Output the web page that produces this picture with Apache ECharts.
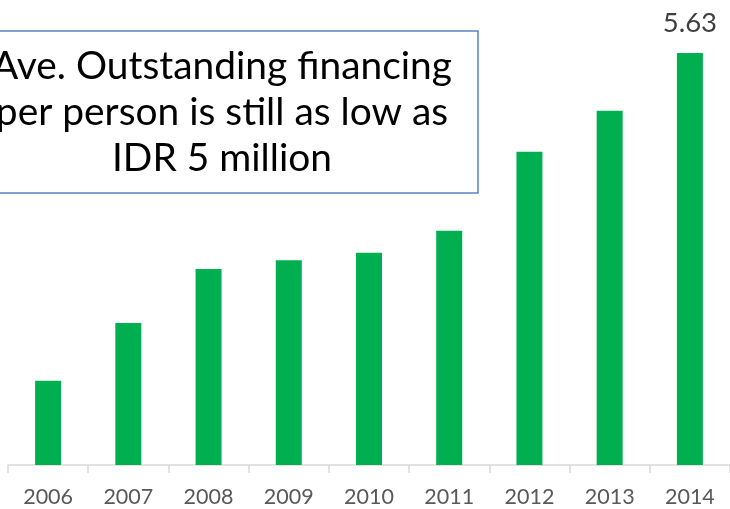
<!DOCTYPE html>
<html><head><meta charset="utf-8">
<script src="https://cdn.jsdelivr.net/npm/echarts@6/dist/echarts.min.js"></script>
<style>html,body{margin:0;padding:0;background:#fff}#c{width:730px;height:509px}</style>
</head><body><div id="c"></div>
<script>
const categories = ['2006','2007','2008','2009','2010','2011','2012','2013','2014'];
const values = [1.15, 1.94, 2.68, 2.80, 2.90, 3.20, 4.28, 4.84, 5.63];
const labelledIndex = 8;
const noteLines = ['Ave. Outstanding financing', 'per person is still as low as', 'IDR 5 million'];

const FONT = 'Lato';
// fit note font so line 2 spans about 450px
const cv = document.createElement('canvas').getContext('2d');
cv.font = '100px ' + FONT;
const w2 = cv.measureText(noteLines[1]).width;
const noteSize = Math.round(100 * 452 / w2 * 10) / 10;

const chart = echarts.init(document.getElementById('c'), null, {renderer: 'canvas'});
chart.setOption({
  animation: false,
  backgroundColor: '#fff',
  grid: {left: 8, top: 26, width: 728, bottom: 44, containLabel: false},
  xAxis: {
    type: 'category', data: categories, boundaryGap: true,
    axisLine: {lineStyle: {color: '#d9d9d9', width: 1.5}},
    axisTick: {show: true, length: 8, lineStyle: {color: '#d9d9d9', width: 1.5}},
    axisLabel: {color: '#595959', fontFamily: FONT, fontSize: 21.5, margin: 21}
  },
  yAxis: {type: 'value', min: 0, max: 6, show: false, splitLine: {show: false}},
  series: [{
    type: 'bar', barWidth: 26,
    itemStyle: {color: '#00b050'},
    data: values.map((v, i) => i === labelledIndex
      ? {value: v, label: {show: true, position: 'top', distance: 16, color: '#404040', fontFamily: FONT, fontSize: 27.5}}
      : v)
  }],
  graphic: [
    {type: 'rect', z: 10, shape: {x: -40, y: 31, width: 518, height: 162},
     style: {fill: '#fff', stroke: '#5584c4', lineWidth: 1.5}},
    {type: 'text', z: 11, x: 222, y: 112,
     style: {text: noteLines.join('\n'), fill: '#000', font: noteSize + 'px ' + FONT,
             textAlign: 'center', textVerticalAlign: 'middle', lineHeight: 46}}
  ]
});
</script></body></html>
